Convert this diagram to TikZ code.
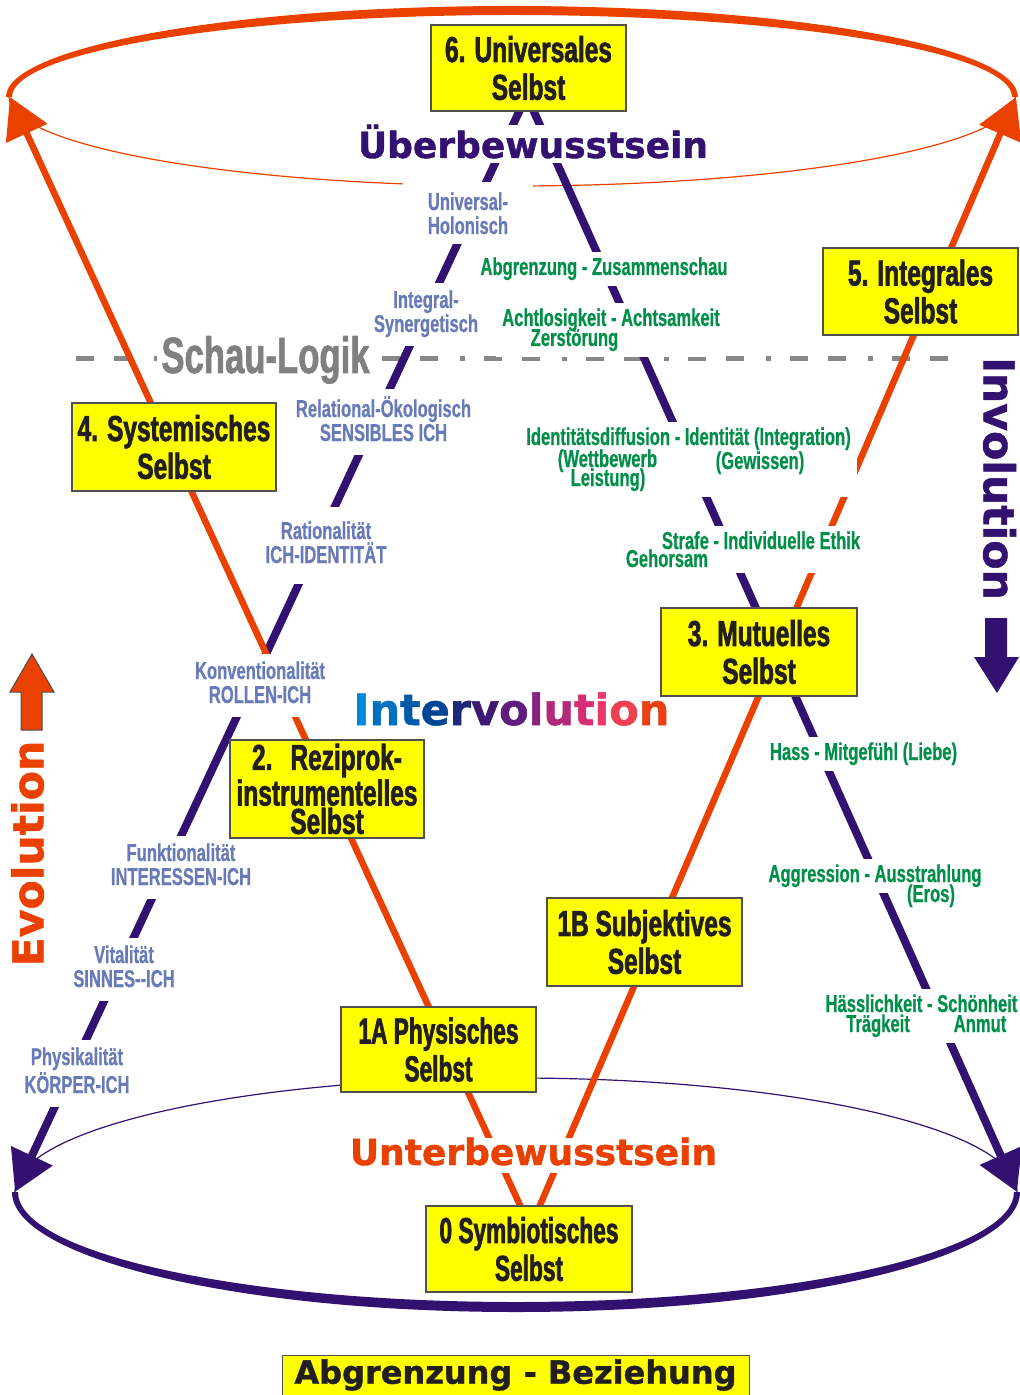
\documentclass[tikz,border=0pt]{standalone}
\usepackage{fontspec}
\usetikzlibrary{arrows.meta,fit}
\newfontfamily\cnd[FakeStretch=0.68,FakeBold=1.8]{Liberation Sans}
\newfontfamily\cndn[FakeStretch=0.63,FakeBold=1.8]{Liberation Sans}
\newfontfamily\cndg[FakeStretch=0.68,FakeBold=1.2]{Liberation Sans}
\newfontfamily\cndl[FakeStretch=0.68,FakeBold=0.6]{Liberation Sans}
\newfontfamily\dvs[FakeBold=1.2]{DejaVu Sans}
\definecolor{pur}{RGB}{50,17,112}
\definecolor{org}{RGB}{234,64,0}
\definecolor{ylw}{RGB}{255,255,0}
\definecolor{boxln}{RGB}{80,80,80}
\definecolor{txt}{RGB}{35,31,32}
\definecolor{labb}{RGB}{104,122,184}
\definecolor{labg}{RGB}{0,143,72}
\definecolor{gry}{RGB}{136,136,136}
\definecolor{gryt}{RGB}{128,128,128}
\newcommand\lowstrut{\rule[-3.5pt]{0pt}{3.5pt}}
\pgfdeclarelayer{bg}\pgfdeclarelayer{mask}\pgfsetlayers{bg,mask,main}
\begin{document}
\begin{tikzpicture}[x=0.5pt,y=-0.5pt,
 selfbox/.style={draw=boxln, line width=0.8pt, fill=ylw, text=txt, align=center, inner sep=0pt,
   font=\cnd\bfseries\fontsize{18}{18.9}\selectfont},
 bluelab/.style={text=labb, fill=white, align=center, anchor=base, inner xsep=2pt, inner ysep=3.5pt,
   font=\cndl\bfseries\fontsize{12.2}{12}\selectfont},
 greenlab/.style={text=labg, anchor=base, inner sep=0pt, font=\cndl\bfseries\fontsize{12.2}{10}\selectfont},
 gmask/.style={fill=white, inner xsep=3pt, inner ysep=2.5pt},
 purline/.style={draw=pur, line width=4pt, -{Triangle[length=20pt,width=22pt]}},
 orgline/.style={draw=org, line width=3.25pt, -{Triangle[length=20pt,width=22pt]}},
 bigword/.style={font=\dvs\bfseries\fontsize{18}{20}\selectfont, inner sep=0pt, anchor=base},
]
\useasboundingbox (0,0) rectangle (1020,1395);

% ---------- end points ----------
\coordinate (pLe) at (15,1192);
\coordinate (pRe) at (1017,1192);
\coordinate (oLe) at (10,97);
\coordinate (oRe) at (1016,97);
\coordinate (dashA) at (76,358.5);
\coordinate (dashB) at (948,358.5);

% ---------- big words ----------
\node[bigword, text=pur, fill=white, text depth=2.5pt] (ueber) at (533,158) {Überbewusstsein};
\node[bigword, text=org, fill=white, text depth=4pt] (unter) at (533.5,1165) {Unterbewusstsein};
\node[anchor=base, fill=white, inner xsep=2pt, inner ysep=0pt, text=gryt,
  font=\cndg\bfseries\fontsize{25.5}{27}\selectfont] (schau) at (265.5,373) {Schau-Logik};
\node[anchor=base, inner sep=0pt, font=\dvs\bfseries\fontsize{21.5}{22}\selectfont] (interv) at (511.5,725)
 {\textcolor[RGB]{0,136,221}{I}\textcolor[RGB]{0,112,192}{n}\textcolor[RGB]{0,90,170}{t}\textcolor[RGB]{0,70,150}{e}\textcolor[RGB]{30,40,120}{r}\textcolor[RGB]{60,25,115}{v}\textcolor[RGB]{95,30,125}{o}\textcolor[RGB]{135,35,125}{l}\textcolor[RGB]{180,40,120}{u}\textcolor[RGB]{215,45,115}{t}\textcolor[RGB]{235,55,105}{i}\textcolor[RGB]{238,65,80}{o}\textcolor[RGB]{234,64,20}{n}};
\node[rotate=90, text=org, inner sep=0pt, font=\dvs\bfseries\fontsize{21.3}{22}\selectfont] (evo) at (27.5,853.5) {Evolution};
\node[rotate=-90, text=pur, inner sep=0pt, font=\dvs\bfseries\fontsize{21.3}{22}\selectfont] (invo) at (999.5,478.5) {Involution};

% ---------- blue labels (anchor = baseline of last line) ----------
\node[bluelab, inner xsep=12.5pt, inner ysep=5pt] (uni) at (468,234) {Universal-\\Holonisch};
\node[bluelab] (integ) at (426,332) {Integral-\\Synergetisch\lowstrut};
\node[bluelab] (relat) at (383.5,441) {Relational-Ökologisch\\SENSIBLES ICH\lowstrut};
\node[bluelab, inner ysep=7pt] (ratio) at (326,563) {Rationalität\\ICH-IDENTITÄT\lowstrut};
\node[bluelab] (konv) at (260,703) {Konventionalität\\ROLLEN-ICH\lowstrut};
\node[bluelab] (funk) at (181,885) {Funktionalität\\INTERESSEN-ICH\lowstrut};
\node[bluelab] (vital) at (124,987) {Vitalität\\SINNES-{}-ICH\lowstrut};
\node[bluelab] (phys) at (77,1093) {Physikalität\\KÖRPER-ICH\lowstrut};

% ---------- green labels ----------
\node[greenlab] (abgr) at (604,275) {Abgrenzung - Zusammenschau};
\node[greenlab] (acht1) at (611,326) {Achtlosigkeit - Achtsamkeit};
\node[greenlab] (acht2) at (574.5,346) {Zerstörung};
\node[greenlab] (id1) at (688.5,445) {Identitätsdiffusion - Identität (Integration)};
\node[greenlab] (id2) at (607.5,467) {(Wettbewerb};
\node[greenlab] (id3) at (608,486) {Leistung)};
\node[greenlab] (id4) at (760,469) {(Gewissen)};
\node[greenlab] (st1) at (761,549) {Strafe - Individuelle Ethik};
\node[greenlab] (st2) at (667,567) {Gehorsam};
\node[greenlab] (hass) at (863.5,760) {Hass - Mitgefühl (Liebe)};
\node[greenlab] (ag1) at (875,882) {Aggression - Ausstrahlung};
\node[greenlab] (ag2) at (931,902) {(Eros)};
\node[greenlab] (hs1) at (921.5,1012) {Hässlichkeit - Schönheit};
\node[greenlab] (hs2) at (878,1032) {Trägkeit};
\node[greenlab] (hs3) at (980,1032) {Anmut};

\begin{pgfonlayer}{mask}
\node[gmask, fit=(abgr)] (mA) {};
\node[gmask, fit=(acht1)(acht2)] (mB) {};
\node[gmask, fit=(id1)(id2)(id3)(id4)] (mC) {};
\node[gmask, fit=(st1)(st2)] (mD) {};
\node[gmask, fit=(hass)] (mE) {};
\node[gmask, fit=(ag1)] (mF) {};
\node[gmask, fit=(ag2)] (mG) {};
\node[gmask, fit=(hs1)] (mH) {};
\node[gmask, fit=(hs2)(hs3)] (mI) {};
\end{pgfonlayer}

% ---------- boxes (drawn above the labels) ----------
\node[selfbox, minimum width=97.5pt, minimum height=43pt] (b6) at (528.5,68) {6. Universales\\Selbst};
\node[selfbox, minimum width=97.5pt, minimum height=43.5pt] (b5) at (920.5,291.5) {5. Integrales\\Selbst};
\node[selfbox, minimum width=102pt, minimum height=44pt] (b4) at (174,447) {4. Systemisches\\Selbst};
\node[selfbox, minimum width=98pt, minimum height=44pt] (b3) at (759,652) {3. Mutuelles\\Selbst};
\node[selfbox, minimum width=97pt, minimum height=49pt, font=\cnd\bfseries\fontsize{18}{14.2}\selectfont] (b2) at (327,789) {2.\hspace{9pt}Reziprok-\\instrumentelles\\Selbst};
\node[selfbox, minimum width=97.5pt, minimum height=44pt] (b1B) at (644.5,942) {1B Subjektives\\Selbst};
\node[selfbox, minimum width=97.5pt, minimum height=42.5pt, font=\cndn\bfseries\fontsize{18}{18.9}\selectfont] (b1A) at (438.5,1049.5) {1A Physisches\\Selbst};
\node[selfbox, minimum width=103pt, minimum height=43pt, font=\cndn\bfseries\fontsize{18}{18.9}\selectfont] (b0) at (529,1249) {0 Symbiotisches\\Selbst};
\node[draw=boxln, line width=0.5pt, fill=ylw, minimum width=233.5pt, minimum height=20pt, inner sep=0pt, text=txt,
  font=\dvs\bfseries\fontsize{16}{18}\selectfont] (abz) at (515.5,1375) {Abgrenzung - Beziehung};

% ---------- arrows Evolution / Involution ----------
\filldraw[fill=org, draw=black!70, line width=0.5pt] (32,654) -- (54,692) -- (42,692) -- (42,730) -- (21,730) -- (21,692) -- (10,692) -- cycle;
\fill[pur] (997,693) -- (1019,657) -- (1007,657) -- (1007,618) -- (985,618) -- (985,657) -- (974,657) -- cycle;

% ---------- background geometry ----------
\begin{pgfonlayer}{bg}
\fill[org] (6,97) arc[start angle=180,end angle=360,x radius=506,y radius=91]
  -- (1012,97) arc[start angle=0,end angle=-180,x radius=500,y radius=82] -- cycle;
\draw[org, line width=0.6pt] (9,97) arc[start angle=180,end angle=0,x radius=503,y radius=89];
\fill[pur] (12,1192) arc[start angle=180,end angle=0,x radius=504,y radius=120]
  -- (1014,1192) arc[start angle=0,end angle=180,x radius=498,y radius=110] -- cycle;
\draw[pur, line width=0.6pt] (15,1192) arc[start angle=180,end angle=360,x radius=501,y radius=114];
\draw[gry, line width=2.5pt, dash pattern=on 9pt off 10pt on 9pt off 11pt on 2.5pt off 9.5pt] (dashA) -- (dashB);
\draw[purline] ([shift={(-2.4pt,5pt)}]b6.south) -- (pLe);
\draw[purline] ([shift={(0.5pt,5pt)}]b6.south) -- (pRe);
\draw[orgline] ([shift={(-2.2pt,-5pt)}]b0.north) -- (oLe);
\draw[orgline] ([shift={(3.35pt,-5pt)}]b0.north) -- (oRe);
\end{pgfonlayer}
\end{tikzpicture}
\end{document}
